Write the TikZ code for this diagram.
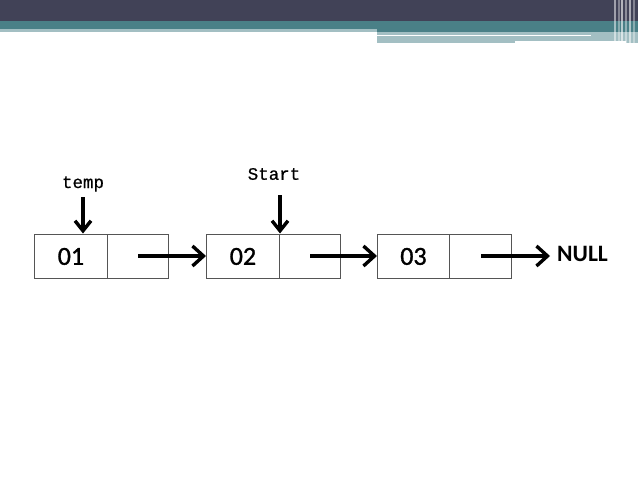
\documentclass[tikz,border=0pt]{standalone}
\usepackage{fontspec}
\setmainfont{Carlito}
\newfontfamily\monof[FakeBold=0.6]{Liberation Mono}
\newfontfamily\numf[FakeBold=1.2]{Carlito}
\usetikzlibrary{arrows.meta}
\definecolor{hdark}{HTML}{414257}
\definecolor{hteal}{HTML}{4A8087}
\definecolor{hlight}{HTML}{A3BFC3}
\definecolor{boxline}{HTML}{555555}
\tikzset{
  cell/.style={draw=boxline, line width=0.9pt, minimum height=44pt, inner sep=0pt, anchor=north west},
  num/.style={font=\numf\fontsize{26}{28}\selectfont},
  ptr/.style={line width=3.4pt, -{Straight Barb[length=11pt,width=20pt,line width=3.4pt]}},
  dptr/.style={line width=3.4pt, -{Straight Barb[length=10pt,width=16pt,line width=3.4pt]}},
  lbl/.style={font=\monof\fontsize{17.5}{19}\selectfont, inner sep=0pt}
}
\begin{document}
\begin{tikzpicture}[x=1pt,y=-1pt]
\useasboundingbox (0,0) rectangle (638,479);
\fill[white] (0,0) rectangle (638,479);
% header bands
\fill[hdark] (0,0) rectangle (638,21);
\fill[hteal] (0,21) rectangle (638,29);
\fill[hlight] (0,29) rectangle (377,32);
\fill[hteal] (377,29) rectangle (638,32);
\fill[hlight] (377,32) rectangle (638,43);
\fill[white] (377,34.5) rectangle (591,36);
\fill[white] (515,41) rectangle (626,43);
\foreach \xx/\op in {614/0.5,618/0.35,621/0.6,625/0.4,629/0.55,633/0.35}
  \fill[white,opacity=\op] (\xx,0) rectangle ++(1.5,43);
% list nodes
\node[cell, minimum width=73pt, num] (d1) at (34,234) {01};
\node[cell, minimum width=61pt] (p1) at (107,234) {};
\node[cell, minimum width=73pt, num] (d2) at (206,234) {02};
\node[cell, minimum width=61pt] (p2) at (279,234) {};
\node[cell, minimum width=72pt, num] (d3) at (377,234) {03};
\node[cell, minimum width=62pt] (p3) at (449,234) {};
\node[font=\bfseries\fontsize{23.5}{25}\selectfont, anchor=west, inner sep=0pt] (null) at (557,254) {NULL};
% pointer arrows
\coordinate (s1) at (138,256);
\coordinate (s2) at (310,256);
\coordinate (s3) at (481,256);
\draw[ptr] (s1) -- (d2.west |- s1);
\draw[ptr] (s2) -- (d3.west |- s2);
\draw[ptr, shorten >=7pt] (s3) -- (null.west |- s3);
% labels
\node[lbl] (temp) at (83,184) {temp};
\node[lbl] (start) at (274,174) {Start};
\draw[dptr] (83,197) -- (83,233.5);
\draw[dptr] (280,195) -- (280,233.5);
\end{tikzpicture}
\end{document}
